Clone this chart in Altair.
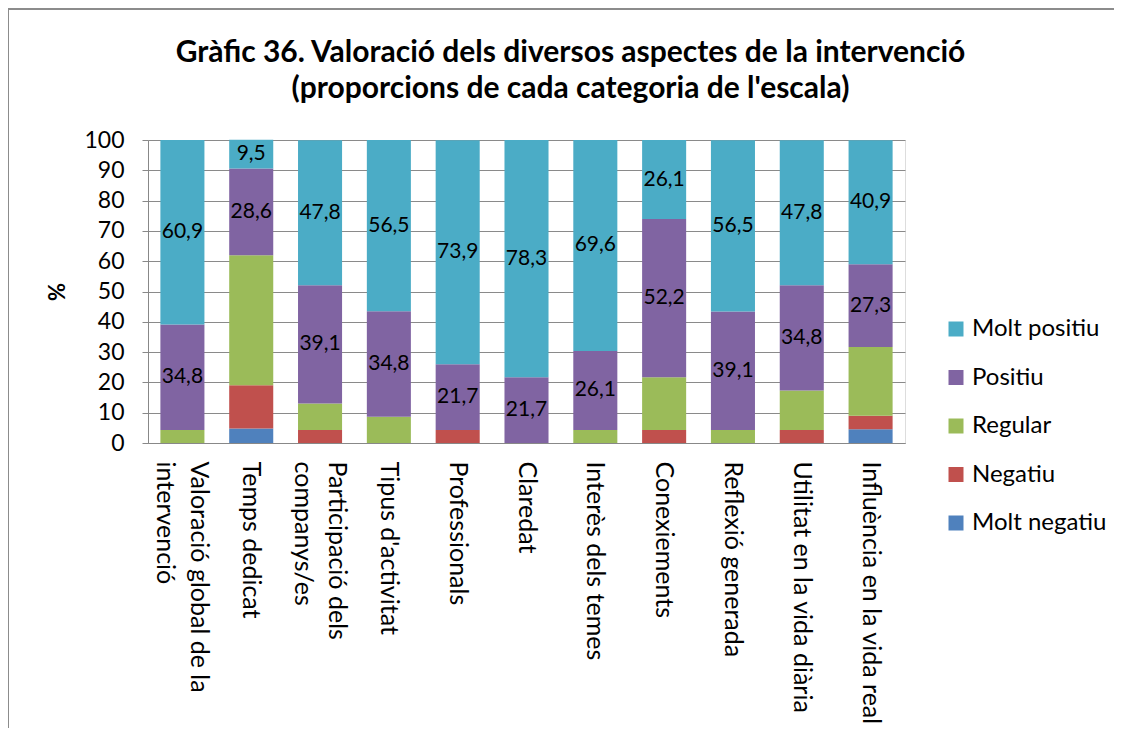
import altair as alt
import pandas as pd

categories = [
    "Valoració global de la\nintervenció",
    "Temps dedicat",
    "Participació dels\ncompanys/es",
    "Tipus d'activitat",
    "Professionals",
    "Claredat",
    "Interès dels temes",
    "Conexiements",
    "Reflexió generada",
    "Utilitat en la vida diària",
    "Influència en la vida real",
]
series = ["Molt positiu", "Positiu", "Regular", "Negatiu", "Molt negatiu"]
colors = ["#4BACC6", "#8064A2", "#9BBB59", "#C0504D", "#4F81BD"]

molt_negatiu = [0, 4.8, 0, 0, 0, 0, 0, 0, 0, 0, 4.5]
negatiu = [0, 14.3, 4.3, 0, 4.3, 0, 0, 4.3, 0, 4.3, 4.5]
regular = [4.3, 42.9, 8.7, 8.7, 0, 0, 4.3, 17.4, 4.3, 13.0, 22.7]
positiu = [34.8, 28.6, 39.1, 34.8, 21.7, 21.7, 26.1, 52.2, 39.1, 34.8, 27.3]
molt_positiu = [60.9, 9.5, 47.8, 56.5, 73.9, 78.3, 69.6, 26.1, 56.5, 47.8, 40.9]

values_by_series = {
    "Molt negatiu": molt_negatiu,
    "Negatiu": negatiu,
    "Regular": regular,
    "Positiu": positiu,
    "Molt positiu": molt_positiu,
}
stack_order = {"Molt negatiu": 0, "Negatiu": 1, "Regular": 2, "Positiu": 3, "Molt positiu": 4}
labelled = ["Positiu", "Molt positiu"]

rows = []
for s, vals in values_by_series.items():
    for c, v in zip(categories, vals):
        rows.append({
            "cat": c,
            "serie": s,
            "v": v,
            "ord": stack_order[s],
            "lab": f"{v:.1f}".replace(".", ",") if s in labelled else "",
        })
df = pd.DataFrame(rows)

FONT = "Lato"

x_axis = alt.Axis(
    labelAngle=90,
    labelAlign="left",
    labelBaseline="middle",
    labelFontSize=25,
    labelLineHeight=34,
    labelPadding=18,
    labelLimit=0,
    labelColor="#000000",
    labelExpr="split(datum.label, '\\n')",
    labelOffset={"expr": "indexof(datum.value, '\\n') >= 0 ? 17 : 0"},
    domainColor="#888888",
    ticks=False,
    labelFont=FONT,
)
x_scale = alt.Scale(paddingInner=0.36, paddingOuter=0.18)

y_axis = alt.Axis(
    values=list(range(0, 101, 10)),
    labelOverlap=False,
    labelFontSize=23,
    labelFont=FONT,
    labelColor="#000000",
    labelPadding=18,
    titleFontSize=22,
    titleFont=FONT,
    titleFontWeight="bold",
    titleColor="#000000",
    titlePadding=14,
    grid=True,
    gridColor="#8a8a8a",
    gridWidth=1,
    domainColor="#888888",
    tickColor="#888888",
    tickSize=6,
)
y_scale = alt.Scale(domain=[0, 100], nice=False)

base = alt.Chart(df).transform_stack(
    stack="v", groupby=["cat"], as_=["y0", "y1"], sort=[alt.SortField("ord", order="ascending")]
).transform_calculate(mid="(datum.y0 + datum.y1) / 2")

bars = base.mark_bar().encode(
    x=alt.X("cat:N", sort=categories, title=None, scale=x_scale, axis=x_axis),
    y=alt.Y("y0:Q", title="%", scale=y_scale, axis=y_axis),
    y2="y1:Q",
    color=alt.Color(
        "serie:N",
        scale=alt.Scale(domain=series, range=colors),
        legend=alt.Legend(
            title=None,
            orient="none",
            legendX=796,
            legendY=177,
            symbolType="square",
            symbolSize=225,
            symbolStrokeWidth=0,
            labelFontSize=24,
            labelFont=FONT,
            labelColor="#000000",
            rowPadding=24.5,
            labelOffset=4,
        ),
    ),
)

texts = base.transform_filter("datum.lab != ''").mark_text(
    fontSize=21, font=FONT, color="#000000", baseline="middle", align="center"
).encode(
    x=alt.X("cat:N", sort=categories, title=None, scale=x_scale, axis=x_axis),
    y=alt.Y("mid:Q", title="%", scale=y_scale, axis=y_axis),
    text="lab:N",
)

frame = alt.Chart(pd.DataFrame({"f": [0]})).mark_rect(
    filled=False, stroke="#8c8c8c", strokeWidth=2
).encode(
    x=alt.value(-140), x2=alt.value(990), y=alt.value(-131), y2=alt.value(620)
)

chart = alt.layer(bars, texts, frame).properties(
    width=757,
    height=303,
    autosize=alt.AutoSizeParams(type="none"),
    padding={"left": 140, "top": 132, "right": 209, "bottom": 285},
    title=alt.TitleParams(
        text=[
            "Gràfic 36. Valoració dels diversos aspectes de la intervenció",
            "(proporcions de cada categoria de l'escala)",
        ],
        fontSize=30,
        font=FONT,
        fontWeight="bold",
        color="#000000",
        anchor="middle",
        frame="group",
        dx=44,
        offset=-96,
        lineHeight=36,
    ),
).configure_view(stroke=None).configure(background="white")

chart.save("out.html", embed_options={"renderer": "svg", "actions": False})
